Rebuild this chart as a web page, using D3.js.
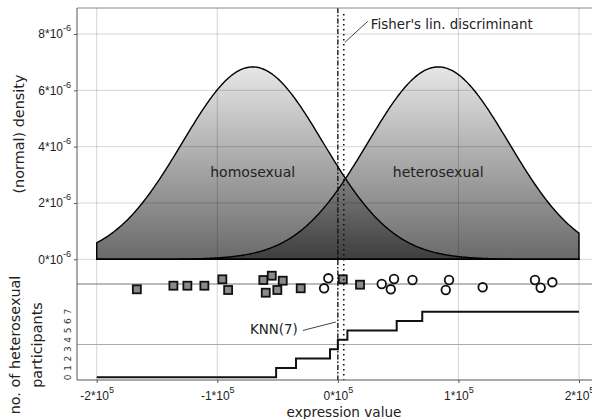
<!DOCTYPE html>
<html lang="en">
<head>
    <meta charset="UTF-8">
    <title>Expression value: homosexual vs heterosexual</title>
    <style>
        body { margin: 0; background: #fff; }
        svg { display: block; font-family: "DejaVu Sans", sans-serif; }
        .grid line { stroke: #000; stroke-opacity: 0.17; stroke-width: 1; }
        .curve { stroke: #000; stroke-width: 1.4px; }
        .lbl { fill: #222; }
    </style>
    <script src="https://d3js.org/d3.v7.min.js"></script>
</head>
<body>
    <div id="chart"></div>
    <script>
        // tick values and labels
        const xTicks = [-2e5, -1e5, 0, 1e5, 2e5];
        const xTickLabels = ["-2", "-1", "0", "1", "2"];
        const densTicks = [0, 2e-6, 4e-6, 6e-6, 8e-6];
        const densTickLabels = ["0", "2", "4", "6", "8"];
        const countTicks = [0, 1, 2, 3, 4, 5, 6, 7];

        // normal fits of the two groups
        const groups = ["homosexual", "heterosexual"];
        const groupMeans = [-0.706e5, 0.833e5];
        const groupSds = [0.584e5, 0.584e5];

        // participants (x = expression value, jitter = vertical offset in the strip)
        const homoX = [-1.667e5, -1.364e5, -1.248e5, -1.107e5, -0.958e5, -0.910e5, -0.618e5,
                       -0.548e5, -0.598e5, -0.502e5, -0.457e5, -0.308e5, 0.041e5, 0.184e5];
        const homoJitter = [-0.53, -0.17, -0.17, -0.17, 0.47, -0.6, 0.4, 0.83, -0.87, -0.6, 0.33, -0.43, 0.47, -0.07];
        const heteroX = [-0.114e5, -0.079e5, 0.364e5, 0.439e5, 0.466e5, 0.619e5, 0.895e5,
                         0.922e5, 1.201e5, 1.635e5, 1.682e5, 1.779e5];
        const heteroJitter = [-0.43, 0.57, 0, -0.53, 0.5, 0.4, -0.6, 0.4, -0.33, 0.4, -0.37, 0.17];

        // KNN(7): number of heterosexual neighbours, step function
        const knnX = [-2e5, -0.512e5, -0.347e5, -0.065e5, 0, 0.079e5, 0.488e5, 0.70e5, 2e5];
        const knnCount = [0, 1, 2, 3, 4, 5, 6, 7, 7];

        // decision thresholds
        const fisherX = 0.049e5;
        const knnThresholdX = 0.0;

        const width = 592, height = 419;
        const plotLeft = 77, plotTop = 8, plotBottom = 380, plotRight = 599;

        const svg = d3.select("#chart").append("svg")
            .attr("width", width).attr("height", height);

        const x = d3.scaleLinear().domain([-2e5, 2e5]).range([96.7, 579]);
        const yDens = d3.scaleLinear().domain([0, 8e-6]).range([259.3, 34]);
        const yCount = d3.scaleLinear().domain([0, 7]).range([377.3, 311.7]);
        const yStrip = d3.scaleLinear().domain([-1, 1]).range([294, 274]);

        const defs = svg.append("defs");
        function grad(id, c0, c1) {
            const g = defs.append("linearGradient").attr("id", id)
                .attr("gradientUnits", "userSpaceOnUse")
                .attr("x1", 0).attr("x2", 0)
                .attr("y1", yDens(6.8e-6)).attr("y2", yDens(0));
            g.append("stop").attr("offset", 0).attr("stop-color", c0);
            g.append("stop").attr("offset", 1).attr("stop-color", c1);
        }
        grad("single", "#e6e6e6", "#6a6a6a");
        grad("both", "#d6d6d6", "#3e3e3e");

        const pdf = (v, m, s) => Math.exp(-0.5 * ((v - m) / s) ** 2) / (s * Math.sqrt(2 * Math.PI));
        const xs = d3.range(-2e5, 2e5 + 1, 1000);

        const area = d3.area().x(d => x(d[0])).y0(yDens(0)).y1(d => yDens(d[1]));

        groups.forEach((g, i) => {
            const pts = xs.map(v => [v, pdf(v, groupMeans[i], groupSds[i])]);
            svg.append("path").datum(pts).attr("d", area).attr("fill", "url(#single)");
        });
        const overlap = xs.map(v => [v, Math.min(pdf(v, groupMeans[0], groupSds[0]), pdf(v, groupMeans[1], groupSds[1]))]);
        svg.append("path").datum(overlap).attr("d", area).attr("fill", "url(#both)");

        // grid
        const grid = svg.append("g").attr("class", "grid");
        grid.selectAll(".v").data(xTicks).join("line")
            .attr("x1", d => x(d)).attr("x2", d => x(d)).attr("y1", plotTop).attr("y2", plotBottom);
        grid.selectAll(".h").data(densTicks).join("line")
            .attr("x1", plotLeft).attr("x2", plotRight).attr("y1", d => yDens(d)).attr("y2", d => yDens(d));
        svg.append("line").attr("x1", plotLeft).attr("x2", plotRight)
            .attr("y1", yStrip(0)).attr("y2", yStrip(0)).attr("stroke", "#777");
        svg.append("line").attr("x1", plotLeft).attr("x2", plotRight)
            .attr("y1", yCount(3.5)).attr("y2", yCount(3.5)).attr("stroke", "#aaa");

        // density outlines
        groups.forEach((g, i) => {
            const pts = xs.map(v => [v, pdf(v, groupMeans[i], groupSds[i])]);
            svg.append("path").datum(pts).attr("class", "curve").attr("fill", "none")
                .attr("d", area);
        });

        // group labels
        groups.forEach((g, i) => {
            svg.append("text").attr("class", "lbl")
                .attr("x", x(groupMeans[i])).attr("y", yDens(3.1e-6))
                .attr("text-anchor", "middle").attr("dominant-baseline", "central")
                .attr("font-size", 14).text(g);
        });

        // KNN step line
        svg.append("path")
            .datum(knnX.map((v, i) => [v, knnCount[i]]))
            .attr("fill", "none").attr("stroke", "#111").attr("stroke-width", 2)
            .attr("d", d3.line().x(d => x(d[0])).y(d => yCount(d[1])).curve(d3.curveStepAfter));

        // participants
        svg.append("g").selectAll("rect").data(homoX).join("rect")
            .attr("x", d => x(d) - 4).attr("y", (d, i) => yStrip(homoJitter[i]) - 4)
            .attr("width", 8).attr("height", 8)
            .attr("fill", "#8a8a8a").attr("stroke", "#111").attr("stroke-width", 1.8);
        svg.append("g").selectAll("circle").data(heteroX).join("circle")
            .attr("cx", d => x(d)).attr("cy", (d, i) => yStrip(heteroJitter[i]))
            .attr("r", 4.3)
            .attr("fill", "#fff").attr("stroke", "#111").attr("stroke-width", 1.8);

        // thresholds
        svg.append("line").attr("x1", x(knnThresholdX)).attr("x2", x(knnThresholdX))
            .attr("y1", plotTop).attr("y2", plotBottom)
            .attr("stroke", "#111").attr("stroke-width", 1.3).attr("stroke-dasharray", "5,2,1.5,2");
        svg.append("line").attr("x1", x(fisherX)).attr("x2", x(fisherX))
            .attr("y1", plotTop + 6).attr("y2", plotBottom)
            .attr("stroke", "#111").attr("stroke-width", 1.6).attr("stroke-dasharray", "1.6,3.4");

        // annotations
        svg.append("line").attr("x1", x(fisherX) + 1).attr("y1", yDens(7.7e-6))
            .attr("x2", x(fisherX) + 24).attr("y2", yDens(8.45e-6))
            .attr("stroke", "#444").attr("stroke-width", 1);
        svg.append("text").attr("class", "lbl").attr("x", x(fisherX) + 27).attr("y", yDens(8.35e-6))
            .attr("dominant-baseline", "central").attr("font-size", 13.4)
            .text("Fisher's lin. discriminant");
        svg.append("line").attr("x1", x(knnThresholdX) - 35).attr("y1", yCount(5.0))
            .attr("x2", x(knnThresholdX) - 2).attr("y2", yCount(5.9))
            .attr("stroke", "#444").attr("stroke-width", 1);
        svg.append("text").attr("class", "lbl").attr("x", x(knnThresholdX) - 40).attr("y", yCount(5.05))
            .attr("text-anchor", "end").attr("dominant-baseline", "central").attr("font-size", 13.4)
            .text("KNN(7)");

        // frame
        svg.append("line").attr("x1", plotLeft).attr("x2", plotRight).attr("y1", plotTop).attr("y2", plotTop)
            .attr("stroke", "#888");
        svg.append("line").attr("x1", plotLeft).attr("x2", plotRight).attr("y1", plotBottom).attr("y2", plotBottom)
            .attr("stroke", "#555");
        svg.append("line").attr("x1", plotLeft).attr("x2", plotLeft).attr("y1", plotTop).attr("y2", plotBottom)
            .attr("stroke", "#555");

        // x axis
        const xAxis = svg.append("g").attr("transform", `translate(0,${plotBottom})`)
            .call(d3.axisBottom(x).tickValues(xTicks).tickSize(3).tickFormat(""));
        xAxis.select(".domain").remove();
        xAxis.selectAll(".tick line").attr("stroke", "#555");
        xAxis.selectAll(".tick text").attr("y", 20).attr("dy", null)
            .attr("fill", "#222").attr("font-size", 12)
            .each(function (d, i) {
                const t = d3.select(this);
                t.append("tspan").text(xTickLabels[i] + "*10");
                t.append("tspan").attr("dy", -7).attr("font-size", 9).text("5");
            });
        svg.append("text").attr("class", "lbl").attr("x", 344).attr("y", 412)
            .attr("text-anchor", "middle").attr("dominant-baseline", "central")
            .attr("font-size", 13.6).text("expression value");

        // density axis
        const yAxis = svg.append("g").attr("transform", `translate(${plotLeft},0)`)
            .call(d3.axisLeft(yDens).tickValues(densTicks).tickSize(3).tickFormat(""));
        yAxis.select(".domain").remove();
        yAxis.selectAll(".tick line").attr("stroke", "#555");
        yAxis.selectAll(".tick text").attr("x", -6).attr("dy", "0.32em")
            .attr("fill", "#222").attr("font-size", 12)
            .each(function (d, i) {
                const t = d3.select(this);
                t.append("tspan").text(densTickLabels[i] + "*10");
                t.append("tspan").attr("dy", -7).attr("font-size", 9).text("-6");
            });
        svg.append("text").attr("class", "lbl")
            .attr("transform", `translate(19,${134}) rotate(-90)`)
            .attr("text-anchor", "middle").attr("dominant-baseline", "central")
            .attr("font-size", 14.4).text("(normal) density");

        // count axis (rotated digits)
        svg.append("g").selectAll("text").data(countTicks).join("text")
            .attr("transform", d => `translate(67.5,${yCount(d)}) rotate(-90)`)
            .attr("text-anchor", "middle").attr("dominant-baseline", "central")
            .attr("font-size", 9).attr("fill", "#333").text(d => d);
        const cl = svg.append("text").attr("class", "lbl")
            .attr("transform", `translate(15,${345}) rotate(-90)`)
            .attr("text-anchor", "middle").attr("font-size", 14.4);
        cl.append("tspan").attr("x", 0).attr("dy", "0.35em").text("no. of heterosexual");
        cl.append("tspan").attr("x", 0).attr("dy", "1.55em").text("participants");
    </script>
</body>
</html>
